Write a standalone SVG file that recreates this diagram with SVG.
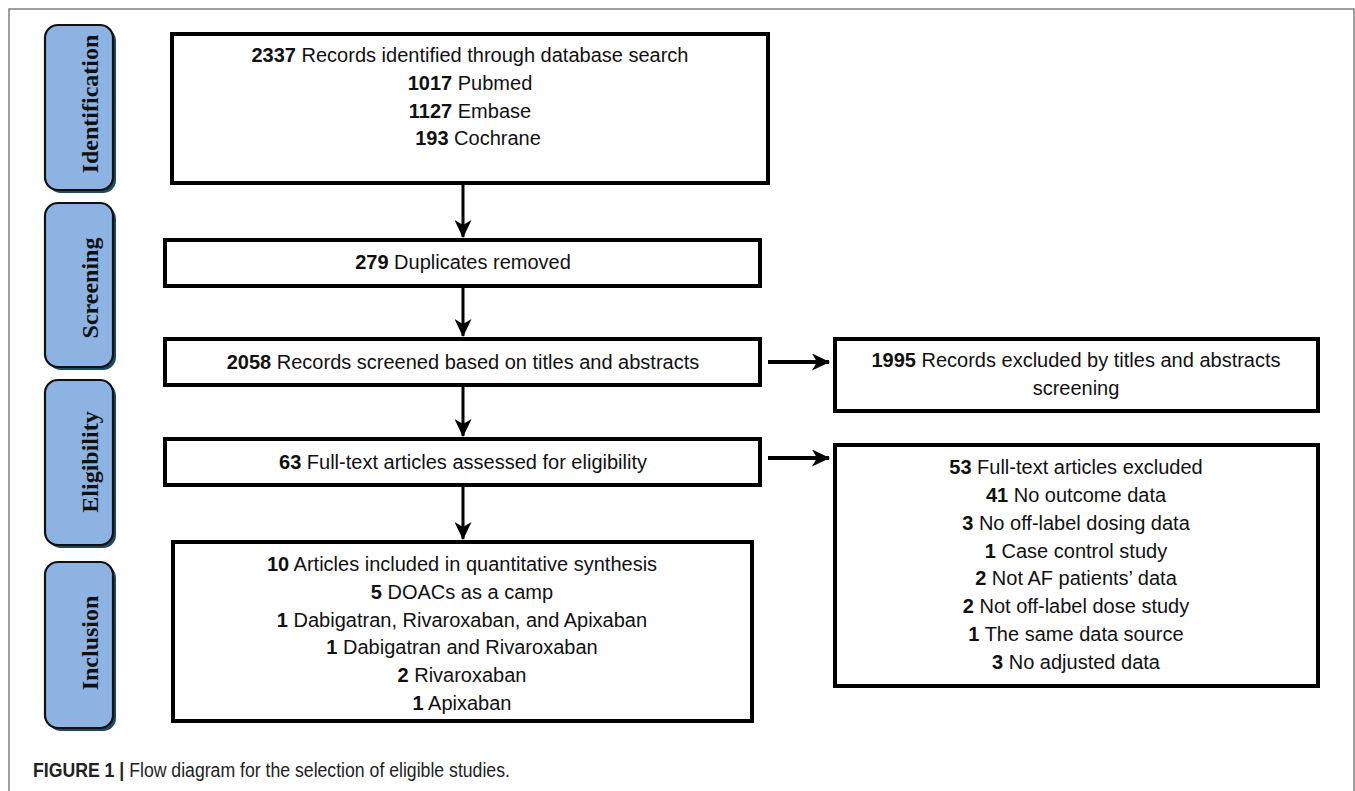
<svg xmlns="http://www.w3.org/2000/svg" width="1355" height="791" viewBox="0 0 1355 791">
<defs>
<marker id="ah" markerUnits="userSpaceOnUse" viewBox="0 0 18 17" markerWidth="18" markerHeight="17" refX="17" refY="8.5" orient="auto">
<path d="M0,0 L18,8.5 L0,17 L5,8.5 z" fill="#000"/>
</marker>
<style>
.frame{fill:none;stroke:#808080;stroke-width:1.5}
.box{fill:#fff;stroke:#000;stroke-width:4}
.stage{fill:#8db3e2;stroke:#111;stroke-width:2.2}
.stagesh{fill:#1f4a5a}
.stxt{font-family:"Liberation Serif","Times New Roman",serif;font-weight:bold;font-size:24px;fill:#111;text-anchor:middle}
.t{font-family:"Liberation Sans",Arial,sans-serif;font-size:20px;fill:#111;text-anchor:middle}
.b{font-weight:bold}
.v{stroke:#000;stroke-width:3;fill:none;marker-end:url(#ah)}
.h{stroke:#000;stroke-width:4;fill:none;marker-end:url(#ah)}
.cap{font-family:"Liberation Sans",Arial,sans-serif;font-size:20px;fill:#222}
</style>
</defs>
<rect width="1355" height="791" fill="#fff"/>
<path class="frame" d="M9,791 V9 H1354 V791"/>

<g id="stage-identification">
<rect class="stagesh" x="48" y="28" width="68" height="165" rx="13"/>
<rect class="stage" x="45" y="25" width="68" height="165" rx="13"/>
<text class="stxt" transform="translate(98,104) rotate(-90)">Identification</text>
</g>
<g id="stage-screening">
<rect class="stagesh" x="48" y="206" width="68" height="164" rx="13"/>
<rect class="stage" x="45" y="203" width="68" height="164" rx="13"/>
<text class="stxt" transform="translate(98,288) rotate(-90)">Screening</text>
</g>
<g id="stage-eligibility">
<rect class="stagesh" x="48" y="383" width="68" height="165" rx="13"/>
<rect class="stage" x="45" y="380" width="68" height="165" rx="13"/>
<text class="stxt" transform="translate(98,462) rotate(-90)">Eligibility</text>
</g>
<g id="stage-inclusion">
<rect class="stagesh" x="48" y="565" width="68" height="166" rx="13"/>
<rect class="stage" x="45" y="562" width="68" height="166" rx="13"/>
<text class="stxt" transform="translate(98,643) rotate(-90)">Inclusion</text>
</g>

<g id="connectors">
<line class="v" x1="463" y1="185" x2="463" y2="237"/>
<line class="v" x1="463" y1="288" x2="463" y2="336"/>
<line class="v" x1="463" y1="387" x2="463" y2="436"/>
<line class="v" x1="463" y1="487" x2="463" y2="539"/>
<line class="h" x1="768" y1="362" x2="829" y2="362"/>
<line class="h" x1="768" y1="458" x2="829" y2="458"/>
</g>

<g id="n-identified">
<rect class="box" x="172" y="34" width="596" height="149"/>
<text class="t" x="470" y="62"><tspan class="b">2337</tspan> Records identified through database search</text>
<text class="t" x="470" y="90"><tspan class="b">1017</tspan> Pubmed</text>
<text class="t" x="470" y="118"><tspan class="b">1127</tspan> Embase</text>
<text class="t" x="478" y="145"><tspan class="b">193</tspan> Cochrane</text>
</g>
<g id="n-duplicates">
<rect class="box" x="165" y="240" width="595" height="46"/>
<text class="t" x="463" y="269"><tspan class="b">279</tspan> Duplicates removed</text>
</g>
<g id="n-screened">
<rect class="box" x="165" y="339" width="595" height="46"/>
<text class="t" x="463" y="369"><tspan class="b">2058</tspan> Records screened based on titles and abstracts</text>
</g>
<g id="n-fulltext">
<rect class="box" x="165" y="439" width="595" height="46"/>
<text class="t" x="463" y="469"><tspan class="b">63</tspan> Full-text articles assessed for eligibility</text>
</g>
<g id="n-included">
<rect class="box" x="173" y="542" width="579" height="179"/>
<text class="t" x="462" y="571"><tspan class="b">10</tspan> Articles included in quantitative synthesis</text>
<text class="t" x="462" y="599"><tspan class="b">5</tspan> DOACs as a camp</text>
<text class="t" x="462" y="627"><tspan class="b">1</tspan> Dabigatran, Rivaroxaban, and Apixaban</text>
<text class="t" x="462" y="654"><tspan class="b">1</tspan> Dabigatran and Rivaroxaban</text>
<text class="t" x="462" y="682"><tspan class="b">2</tspan> Rivaroxaban</text>
<text class="t" x="462" y="710"><tspan class="b">1</tspan> Apixaban</text>
</g>
<g id="n-excluded-screening">
<rect class="box" x="835" y="339" width="483" height="72"/>
<text class="t" x="1076" y="367"><tspan class="b">1995</tspan> Records excluded by titles and abstracts</text>
<text class="t" x="1076" y="395">screening</text>
</g>
<g id="n-excluded-fulltext">
<rect class="box" x="835" y="445" width="483" height="241"/>
<text class="t" x="1076" y="474"><tspan class="b">53</tspan> Full-text articles excluded</text>
<text class="t" x="1076" y="502"><tspan class="b">41</tspan> No outcome data</text>
<text class="t" x="1076" y="530"><tspan class="b">3</tspan> No off-label dosing data</text>
<text class="t" x="1076" y="558"><tspan class="b">1</tspan> Case control study</text>
<text class="t" x="1076" y="585"><tspan class="b">2</tspan> Not AF patients’ data</text>
<text class="t" x="1076" y="613"><tspan class="b">2</tspan> Not off-label dose study</text>
<text class="t" x="1076" y="641"><tspan class="b">1</tspan> The same data source</text>
<text class="t" x="1076" y="669"><tspan class="b">3</tspan> No adjusted data</text>
</g>

<g id="caption">
<text class="cap" transform="translate(33,777) scale(0.883,1)"><tspan class="b">FIGURE 1 |</tspan> Flow diagram for the selection of eligible studies.</text>
</g>
</svg>
